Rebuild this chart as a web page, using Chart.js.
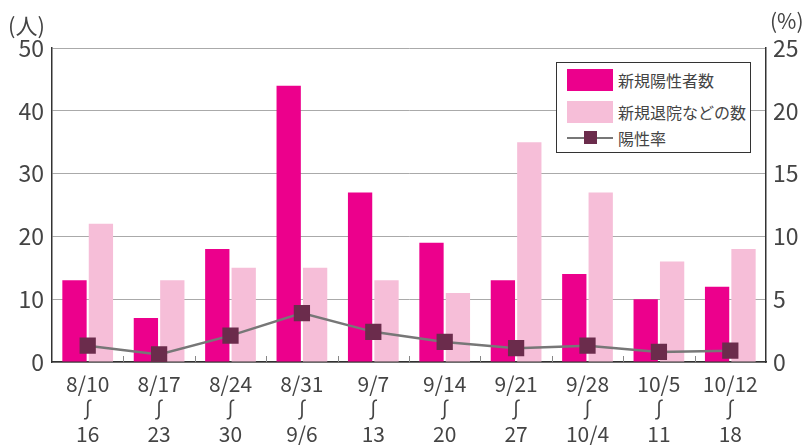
<!DOCTYPE html>
<html>
<head>
<meta charset="utf-8">
<script src="https://cdn.jsdelivr.net/npm/chart.js@4/dist/chart.umd.min.js"></script>
<style>
  html, body { margin: 0; padding: 0; background: #fff; }
  #wrap { position: relative; width: 812px; height: 445px; }
  canvas { position: absolute; left: 0; top: 0; }
  .t { position: absolute; font-family: "Noto Sans CJK JP", sans-serif; color: #444; white-space: nowrap; }
  #legend { position: absolute; left: 556px; top: 62px; width: 193px; height: 89px; border: 1.5px solid #333; background: #fff; }
  .row { position: absolute; left: 10px; height: 24px; display: flex; align-items: center; font-family: "Noto Sans CJK JP", sans-serif; font-size: 16px; color: #444; white-space: nowrap; }
  .sw { width: 46px; height: 22px; margin-right: 5px; flex: none; }
  .ln { width: 46px; height: 14px; margin-right: 5px; position: relative; flex: none; }
  .ln::before { content: ""; position: absolute; left: 0; right: 0; top: 6px; height: 2px; background: #777; }
  .ln::after { content: ""; position: absolute; left: 17px; top: 0; width: 13px; height: 13px; background: #6b2c4c; }
</style>
</head>
<body>
<div id="wrap">
  <canvas id="c" width="812" height="445"></canvas>
  <div class="t" style="left:8px; top:8px; font-size:22px;">(人)</div>
  <div class="t" style="left:770px; top:5px; font-size:21px;">(%)</div>
  <div id="legend">
    <div class="row" style="top:5px;"><div class="sw" style="background:#ec008c"></div>新規陽性者数</div>
    <div class="row" style="top:37px;"><div class="sw" style="background:#f6bed8"></div>新規退院などの数</div>
    <div class="row" style="top:63px;"><div class="ln"></div>陽性率</div>
  </div>
</div>
<script>
const categories = [
  ["8/10","∫","16"], ["8/17","∫","23"], ["8/24","∫","30"], ["8/31","∫","9/6"],
  ["9/7","∫","13"], ["9/14","∫","20"], ["9/21","∫","27"], ["9/28","∫","10/4"],
  ["10/5","∫","11"], ["10/12","∫","18"]
];
const newPositives = [13, 7, 18, 44, 27, 19, 13, 14, 10, 12];
const discharges = [22, 13, 15, 15, 13, 11, 35, 27, 16, 18];
const positiveRate = [1.3, 0.6, 2.1, 3.9, 2.4, 1.6, 1.1, 1.3, 0.8, 0.9];
const leftTicks = [0, 10, 20, 30, 40, 50];
const rightTicks = [0, 5, 10, 15, 20, 25];

const FONT = '"Noto Sans CJK JP", sans-serif';

const catTicks = {
  id: 'catTicks',
  afterDatasetsDraw(chart) {
    const xs = chart.scales.x;
    const ctx = chart.ctx;
    const bottom = chart.chartArea.bottom;
    ctx.save();
    ctx.strokeStyle = '#888';
    ctx.lineWidth = 1;
    for (let i = 1; i < categories.length; i++) {
      const x = Math.round((xs.getPixelForTick(i - 1) + xs.getPixelForTick(i)) / 2) + 0.5;
      ctx.beginPath();
      ctx.moveTo(x, bottom);
      ctx.lineTo(x, bottom - 6);
      ctx.stroke();
    }
    ctx.restore();
  }
};

new Chart(document.getElementById('c'), {
  data: {
    labels: categories,
    datasets: [
      { type: 'line', label: '陽性率', data: positiveRate, yAxisID: 'y1',
        borderColor: '#777', borderWidth: 2.5, pointStyle: 'rect', pointRadius: 11.5,
        pointBackgroundColor: '#6b2c4c', pointBorderWidth: 0, pointHoverRadius: 11.5, order: 0 },
      { type: 'bar', label: '新規陽性者数', data: newPositives, yAxisID: 'y',
        backgroundColor: '#ec008c', categoryPercentage: 0.74, barPercentage: 0.92, order: 1 },
      { type: 'bar', label: '新規退院などの数', data: discharges, yAxisID: 'y',
        backgroundColor: '#f6bed8', categoryPercentage: 0.74, barPercentage: 0.92, order: 1 }
    ]
  },
  options: {
    responsive: false,
    animation: false,
    devicePixelRatio: 1,
    layout: { padding: { top: 48, left: 0, right: 0, bottom: 0 } },
    plugins: { legend: { display: false }, tooltip: { enabled: false } },
    scales: {
      x: {
        offset: true,
        grid: { display: false },
        border: { display: true, color: '#333', width: 1.5 },
        ticks: { color: '#444', font: { family: FONT, size: 21, lineHeight: 1.2 }, padding: 1, maxRotation: 0, autoSkip: false },
        afterFit(s) { s.height = 83; }
      },
      y: {
        position: 'left', min: 0, max: 50,
        afterBuildTicks(s) { s.ticks = leftTicks.map(v => ({ value: v })); },
        grid: { color: '#aaa', lineWidth: 1, drawTicks: false },
        border: { display: true, color: '#333', width: 1.5 },
        ticks: { color: '#444', font: { family: FONT, size: 23 }, padding: 8 },
        afterFit(s) { s.width = 52; }
      },
      y1: {
        position: 'right', min: 0, max: 25,
        afterBuildTicks(s) { s.ticks = rightTicks.map(v => ({ value: v })); },
        grid: { drawOnChartArea: false, drawTicks: false },
        border: { display: true, color: '#333', width: 1.5 },
        ticks: { color: '#444', font: { family: FONT, size: 23 }, padding: 7 },
        afterFit(s) { s.width = 46; }
      }
    }
  },
  plugins: [catTicks]
});
</script>
</body>
</html>
